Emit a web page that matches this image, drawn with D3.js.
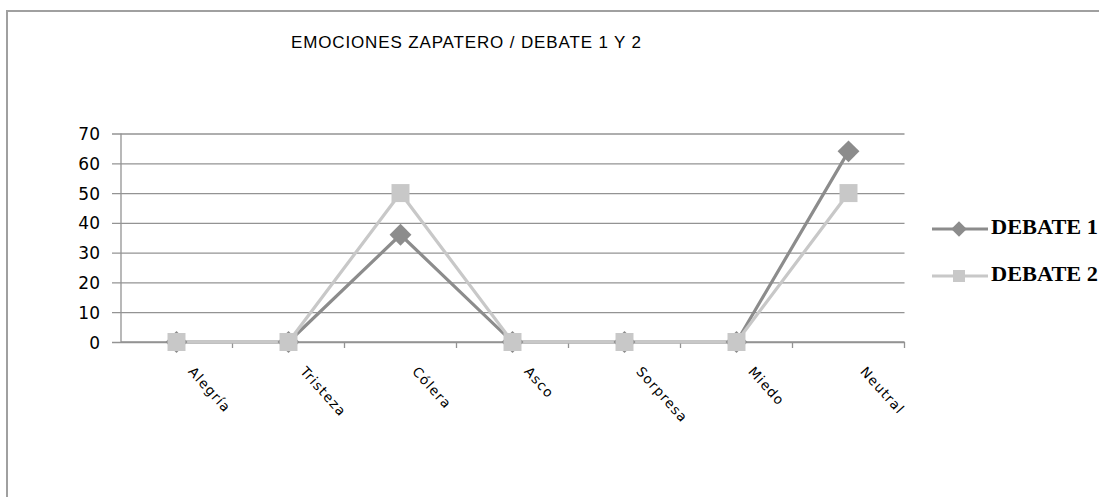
<!DOCTYPE html>
<html><head><meta charset="utf-8">
<script src="https://cdn.jsdelivr.net/npm/d3@7"></script>
<style>html,body{margin:0;padding:0;background:#fff;}svg{display:block;}</style>
</head><body>
<svg id="chart" width="1099" height="497"></svg>
<script>
const title = "EMOCIONES ZAPATERO / DEBATE 1 Y 2";
const categories = ["Alegría","Tristeza","Cólera","Asco","Sorpresa","Miedo","Neutral"];
const debate1 = [0,0,36,0,0,0,64];
const debate2 = [0,0,50,0,0,0,50];
const seriesNames = ["DEBATE 1","DEBATE 2"];
const yTicks = [0,10,20,30,40,50,60,70];

const svg = d3.select("#chart");
const W = 1099, H = 497;
const series = [
  {name: seriesNames[0], values: debate1, color: "#8c8c8c", diamond: true},
  {name: seriesNames[1], values: debate2, color: "#c8c8c8", diamond: false}
];

// frame (top and left border)
svg.append("line").attr("x1",7).attr("x2",W).attr("y1",11).attr("y2",11).attr("stroke","#a0a0a0").attr("stroke-width",2);
svg.append("line").attr("x1",7).attr("x2",7).attr("y1",10).attr("y2",H).attr("stroke","#a0a0a0").attr("stroke-width",2);

const x = d3.scaleBand().domain(categories).range([120.5, 904.5]).paddingInner(0).paddingOuter(0);
const y = d3.scaleLinear().domain([0,70]).range([342,133.5]);

// gridlines + y axis
const yAxis = d3.axisLeft(y).tickValues(yTicks).tickSize(-(904.5-121)).tickPadding(0).tickFormat(d3.format("d"));
const gy = svg.append("g").attr("transform","translate(121,0)").call(yAxis);
gy.select(".domain").remove();
gy.selectAll(".tick line").attr("stroke","#939393").attr("stroke-width",1.3).attr("x1",-9);
gy.selectAll(".tick text").attr("x",-21).attr("font-family","DejaVu Sans, sans-serif").attr("font-size",17).attr("fill","#000").attr("dy","0.36em");
svg.append("line").attr("x1",121).attr("x2",121).attr("y1",133.5).attr("y2",342).attr("stroke","#939393").attr("stroke-width",1.3);

// x axis
const xAxis = d3.axisBottom(x).tickSize(0).tickFormat("");
const gx = svg.append("g").attr("transform","translate(0,342)").call(xAxis);
gx.select(".domain").attr("stroke","#939393").attr("stroke-width",1.3).attr("d","M121,0H904.5");
gx.selectAll(".tick").remove();
const bounds = categories.map(c => x(c) + x.bandwidth());
gx.selectAll("line.bt").data(bounds).enter().append("line").attr("class","bt")
  .attr("x1",d=>d).attr("x2",d=>d).attr("y1",0).attr("y2",6).attr("stroke","#939393").attr("stroke-width",1.3);

// x labels rotated
svg.append("g").selectAll("text").data(categories).enter().append("text")
  .attr("transform", d => `translate(${x(d)+x.bandwidth()/2+11},${372}) rotate(48)`)
  .attr("font-family","DejaVu Sans, sans-serif").attr("font-size",13.5).attr("letter-spacing","1.2px")
  .attr("fill","#000").text(d=>d);

// lines
const cx = i => x(categories[i]) + x.bandwidth()/2;
const line = d3.line().x((d,i)=>cx(i)).y(d=>y(d));
series.forEach(s => {
  svg.append("path").datum(s.values).attr("d",line).attr("fill","none")
    .attr("stroke",s.color).attr("stroke-width",3.2).attr("stroke-linejoin","round");
});
const sq = d3.symbol().type(d3.symbolSquare);
series.forEach(s => {
  svg.append("g").selectAll("path").data(s.values).enter().append("path")
    .attr("d", sq.size(s.diamond ? 15.5*15.5 : 18*18)())
    .attr("transform",(d,i)=>`translate(${cx(i)},${y(d)})` + (s.diamond ? " rotate(45)" : ""))
    .attr("fill",s.color);
});

// title
svg.append("text").attr("x",291).attr("y",48).attr("font-family","Liberation Sans, Arial, sans-serif")
  .attr("font-size",17).attr("textLength",350).attr("lengthAdjust","spacing").attr("fill","#000").text(title);

// legend
const legY = [229, 276];
series.forEach((s,i) => {
  const g = svg.append("g");
  g.append("line").attr("x1",932).attr("x2",988).attr("y1",legY[i]).attr("y2",legY[i]).attr("stroke",s.color).attr("stroke-width",3.2);
  g.append("path").attr("d", sq.size(s.diamond ? 11*11 : 12*12)())
    .attr("transform",`translate(959,${legY[i]})` + (s.diamond ? " rotate(45)" : "")).attr("fill",s.color);
  g.append("text").attr("x",991).attr("y",legY[i]+5).attr("font-family","Liberation Serif, Times New Roman, serif")
    .attr("font-weight","bold").attr("font-size",20).attr("textLength",107).attr("lengthAdjust","spacingAndGlyphs")
    .attr("fill","#000").text(s.name);
});
</script>
</body></html>
